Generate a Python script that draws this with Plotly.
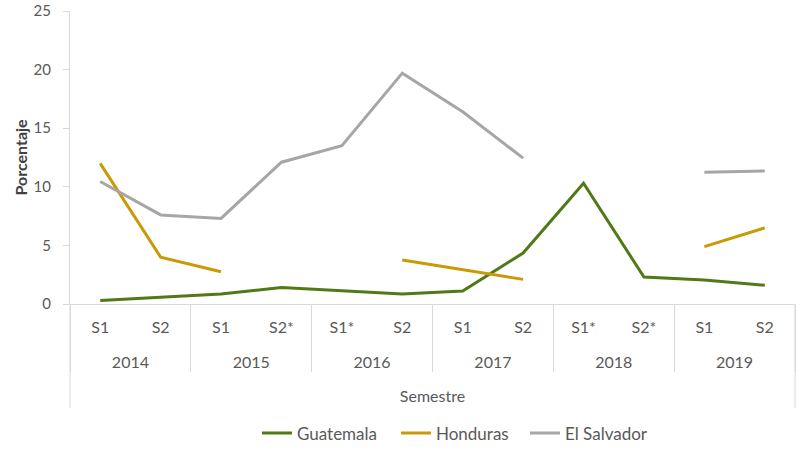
import plotly.graph_objects as go

years = ["2014", "2014", "2015", "2015", "2016", "2016",
         "2017", "2017", "2018", "2018", "2019", "2019"]
semesters = ["S1", "S2", "S1", "S2*", "S1*", "S2",
             "S1", "S2", "S1*", "S2*", "S1", "S2"]

guatemala = [0.3, 0.6, 0.85, 1.4, 1.1, 0.85, 1.1, 4.35, 10.3, 2.3, 2.05, 1.6]
honduras = [12.0, 4.0, 2.75, None, None, 3.75, 2.95, 2.1, None, None, 4.9, 6.5]
el_salvador = [10.45, 7.6, 7.3, 12.1, 13.5, 19.7, 16.4, 12.45, None, None, 11.25, 11.35]

# name, values, colour, legend entry width
series = [
    ("Guatemala", guatemala, "#4f7a15", 94),
    ("Honduras", honduras, "#c99a06", 84),
    ("El Salvador", el_salvador, "#a6a6a6", None),
]

font_family = "Lato, 'Noto Sans', sans-serif"

W, H = 796, 452
ML, MT, MR, MB = 70, 11, 1, 148
PW, PH = W - ML - MR, H - MT - MB

# inner labels get an invisible extra line so the year row sits lower
sem_labels = [s + "<br><span style='font-size:24px'> </span>" for s in semesters]
x_cats = [years, sem_labels]

fig = go.Figure()

# invisible helper trace: fixes the order in which plotly first "sees" the
# inner categories (first semester of every year, then the second one),
# so each year keeps its semesters in the original order
order_years = years[0::2] + years[1::2]
order_sems = sem_labels[0::2] + sem_labels[1::2]
fig.add_trace(go.Scatter(
    x=[order_years, order_sems], y=[None] * len(order_years),
    mode="lines", showlegend=False, hoverinfo="skip",
))

for name, vals, color, lw in series:
    fig.add_trace(go.Scatter(
        x=x_cats, y=vals, name=name, mode="lines",
        line=dict(color=color, width=3), connectgaps=False,
        legendwidth=lw,
        hovertemplate="%{y}<extra>" + name + "</extra>",
    ))

fig.update_layout(
    width=W, height=H,
    margin=dict(l=ML, r=MR, t=MT, b=MB),
    paper_bgcolor="white", plot_bgcolor="white",
    font=dict(family=font_family, size=15, color="#595959"),
    showlegend=True,
    # legend sits flush with the bottom edge so it never pushes the margins
    legend=dict(orientation="h",
                x=(455 - ML) / PW, xanchor="center",
                y=-(MB - 0.5) / PH, yanchor="bottom",
                font=dict(size=17, color="#595959"), itemwidth=30),
    annotations=[dict(
        text="<b>Porcentaje</b>", textangle=-90,
        xref="paper", yref="paper",
        x=(20 - ML) / PW, y=0.5,
        xanchor="center", yanchor="middle", showarrow=False,
        font=dict(size=16, color="#404040"),
    )],
)

fig.update_xaxes(
    type="multicategory",
    range=[-0.5, len(years) - 0.5],
    automargin=False,
    showline=True, linecolor="#d9d9d9", linewidth=1,
    showgrid=False, ticks="",
    ticklabelstandoff=9,
    showdividers=True, dividercolor="#d9d9d9", dividerwidth=1,
    tickfont=dict(size=16, color="#595959"),
    title=dict(text="Semestre", font=dict(size=16, color="#595959"), standoff=20),
)
fig.update_yaxes(
    range=[0, 25], dtick=5,
    automargin=False,
    showline=True, linecolor="#d9d9d9", linewidth=1,
    showgrid=False, zeroline=False,
    ticks="outside", ticklen=6, tickcolor="#d9d9d9",
    ticklabelstandoff=9, ticklabeloverflow="allow",
    tickfont=dict(size=15, color="#595959"),
)

# outer frame lines extending below the axis labels
for xp in [0, 1]:
    fig.add_shape(type="line", xref="paper", yref="paper",
                  x0=xp, x1=xp, y0=0, y1=-(408 - (MT + PH)) / PH,
                  line=dict(color="#d9d9d9", width=1))

# remove the browser's default 8px body margin so the figure fills the window
fig.write_html("out.html", config={"displayModeBar": False},
               post_script="document.body.style.margin='0';")
